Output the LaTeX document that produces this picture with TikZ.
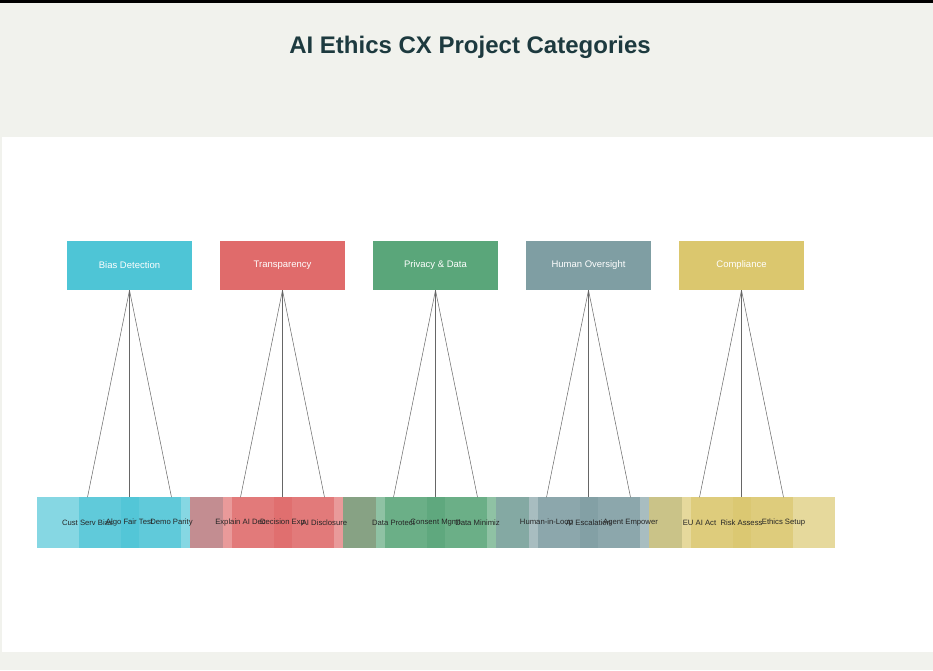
\documentclass[tikz,border=0pt]{standalone}
\usepackage{fontspec}
\setmainfont{Liberation Sans}
\usetikzlibrary{positioning}
\definecolor{fundo}{HTML}{F1F2ED}
\definecolor{titulocor}{HTML}{1D3A3F}
\definecolor{biascol}{HTML}{4EC5D6}
\definecolor{transcol}{HTML}{E06B6B}
\definecolor{privcol}{HTML}{5AA67A}
\definecolor{humancol}{HTML}{7F9EA3}
\definecolor{complcol}{HTML}{DBC76E}

% Folhas: pai/cor/deslocamento/texto
\def\folhas{bias/biascol/-42/Cust Serv Bias, bias/biascol/0/Algo Fair Test, bias/biascol/42/Demo Parity,
  transp/transcol/-42/Explain AI Dec, transp/transcol/0/Decision Exp, transp/transcol/42/AI Disclosure,
  priv/privcol/-42/Data Protect, priv/privcol/0/Consent Mgmt, priv/privcol/42/Data Minimiz,
  human/humancol/-42/Human-in-Loop, human/humancol/0/AI Escalation, human/humancol/42/Agent Empower,
  compl/complcol/-42/EU AI Act, compl/complcol/0/Risk Assess, compl/complcol/42/Ethics Setup}

\begin{document}
\begin{tikzpicture}[x=1pt, y=-1pt,
    titulo/.style={font=\bfseries\fontsize{24}{28}\selectfont, text=titulocor},
    categoria/.style={minimum width=125pt, minimum height=49pt, inner sep=0pt,
      text=white, font=\fontsize{9.5}{11}\selectfont},
    folha/.style={minimum width=102pt, minimum height=51pt, inner sep=0pt, fill opacity=0.68},
    rotulo/.style={font=\fontsize{7.7}{9}\selectfont, text=black!85, inner sep=0pt},
    ligacao/.style={draw=black!60, line width=0.5pt}]
    % Fundo
    \fill[fundo] (0,0) rectangle (933,670);
    \fill[black] (0,0) rectangle (933,3);
    \fill[white] (2,137) rectangle (933,652);
    \node[titulo] (tit) at (470,47) {AI Ethics CX Project Categories};
    % Categorias
    \foreach \nome/\cor/\txt [count=\i from 0] in {bias/biascol/Bias Detection,
        transp/transcol/Transparency, priv/privcol/{Privacy \& Data},
        human/humancol/Human Oversight, compl/complcol/Compliance} {
        \node[categoria, fill=\cor] (\nome) at ({129.5+153*\i},265.5) {\txt};
    }
    % Folhas
    \foreach \pai/\cor/\dx/\txt [count=\n] in \folhas {
        \node[folha, fill=\cor, below=207pt of \pai, xshift=\dx pt] (f\n) {};
    }
    % Ligacoes e rotulos
    \foreach \pai/\cor/\dx/\txt [count=\n] in \folhas {
        \draw[ligacao] (\pai.south) -- (f\n.north);
        \node[rotulo] (r\n) at (f\n.center) {\txt};
    }
\end{tikzpicture}
\end{document}
